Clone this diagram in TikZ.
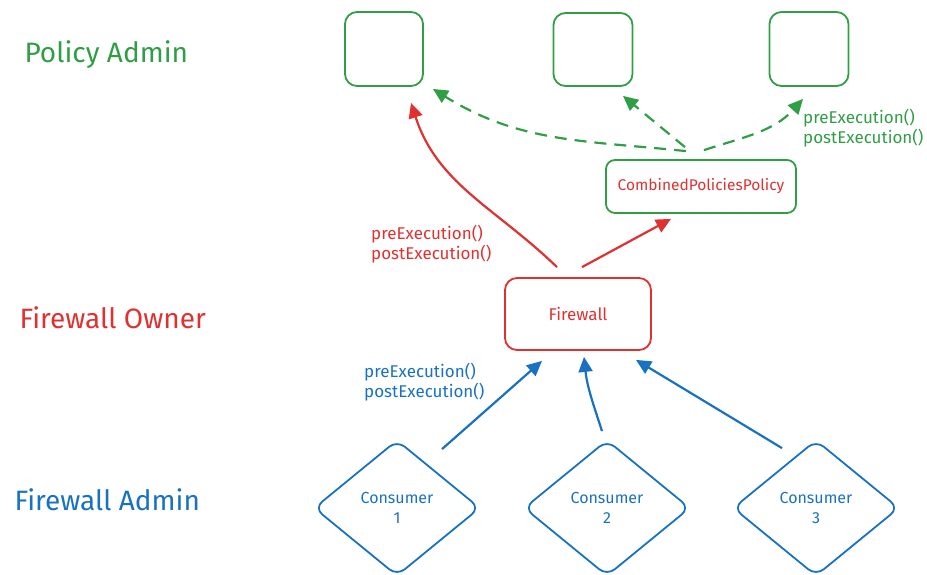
\documentclass[tikz,border=0pt]{standalone}
\usepackage{fontspec}
\setmainfont{Fira Sans}
\usetikzlibrary{arrows.meta,shapes.geometric}
\definecolor{cgreen}{HTML}{2F9E44}
\definecolor{cred}{HTML}{E03131}
\definecolor{cblue}{HTML}{1971C2}
\tikzset{
  lane/.style={anchor=west,font=\fontsize{28}{32}\selectfont},
  sbox/.style={draw,line width=1.8pt,rounded corners=12pt,inner sep=0pt},
  small/.style={font=\fontsize{17}{20}\selectfont},
  lbl/.style={small,align=left,anchor=north west,inner sep=0pt},
  diam/.style={draw=cblue,text=cblue,line width=1.8pt,diamond,rounded corners=10pt,
    minimum width=166pt,minimum height=136pt,inner sep=0pt,align=center,
    font=\fontsize{16}{20}\selectfont},
  arr/.style={line width=2.2pt,-{Triangle[length=15pt,width=14pt]}},
  darr/.style={arr,dash pattern=on 12pt off 8pt}
}
\begin{document}
\begin{tikzpicture}[x=1pt,y=1pt]
\useasboundingbox (0,0) rectangle (927,-574);
% lane titles
\node[lane,text=cgreen] (tpa) at (21,-55) {Policy Admin};
\node[lane,text=cred] (tfo) at (16,-318) {Firewall Owner};
\node[lane,text=cblue] (tfa) at (11,-500) {Firewall Admin};
% policy boxes
\node[sbox,draw=cgreen,minimum width=78pt,minimum height=74pt] (p1) at (384,-49) {};
\node[sbox,draw=cgreen,minimum width=79pt,minimum height=73pt] (p2) at (593,-49.5) {};
\node[sbox,draw=cgreen,minimum width=79pt,minimum height=74pt] (p3) at (809,-49) {};
\node[sbox,draw=cgreen,text=cred,font=\fontsize{15.5}{18}\selectfont,rounded corners=9pt,minimum width=190pt,minimum height=53pt] (cpp) at (701,-186.5) {CombinedPoliciesPolicy};
% firewall
\node[sbox,draw=cred,text=cred,small,minimum width=146pt,minimum height=72pt] (fw) at (578,-314) {Firewall};
% consumers
\node[diam] (c1) at (397,-508) {Consumer\\1};
\node[diam] (c2) at (607,-508) {Consumer\\2};
\node[diam] (c3) at (816,-508) {Consumer\\3};
% green dashed arrows
\draw[darr,cgreen] ([xshift=-15pt,yshift=8pt]cpp.north) to[out=174,in=-32] ([xshift=9pt,yshift=-2pt]p1.south east);
\draw[darr,cgreen] ([xshift=-16pt,yshift=12pt]cpp.north) -- ([xshift=30pt,yshift=-9pt]p2.south);
\draw[darr,cgreen] ([xshift=3pt,yshift=9pt]cpp.north) to[out=18,in=-132] ([xshift=-6pt,yshift=-12pt]p3.south);
\node[lbl,text=cgreen] (lg) at (803,-109) {preExecution()\\postExecution()};
% red arrows
\draw[arr,cred] ([xshift=-21pt,yshift=10pt]fw.north) to[out=136,in=-72] ([xshift=27pt,yshift=-16pt]p1.south);
\draw[arr,cred] ([xshift=4pt,yshift=10pt]fw.north) -- ([xshift=-30pt,yshift=-5pt]cpp.south);
\node[lbl,text=cred] (lr) at (371,-225) {preExecution()\\postExecution()};
% blue arrows
\draw[arr,cblue] ([xshift=45pt,yshift=-10pt]c1.north) -- ([xshift=-36pt,yshift=-10pt]fw.south);
\draw[arr,cblue] ([xshift=-5pt,yshift=8pt]c2.north) to[out=108,in=-84] ([xshift=6pt,yshift=-6pt]fw.south);
\draw[arr,cblue] ([xshift=-34pt,yshift=-9pt]c3.north) -- ([xshift=58pt,yshift=-9pt]fw.south);
\node[lbl,text=cblue] (lb) at (364,-363) {preExecution()\\postExecution()};
\end{tikzpicture}
\end{document}
